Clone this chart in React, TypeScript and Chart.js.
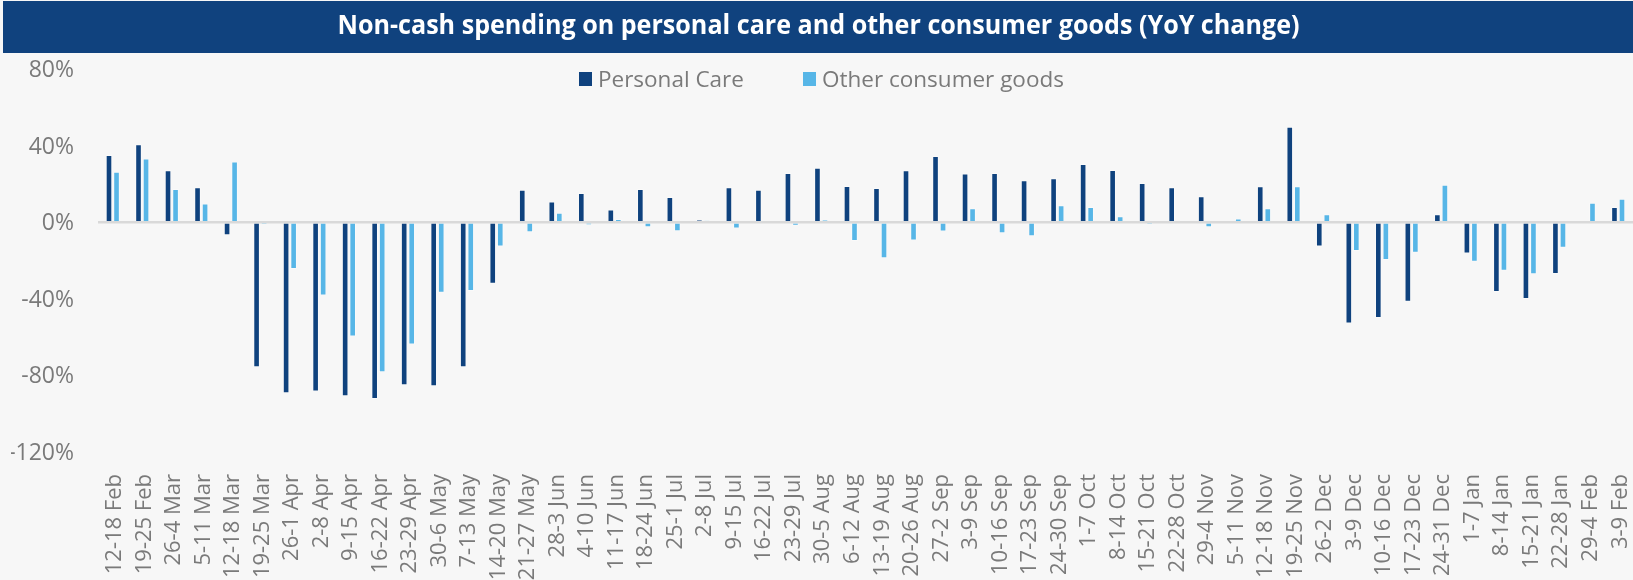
import React, { useEffect, useRef } from "react";
import { Chart, registerables } from "chart.js";

Chart.register(...registerables);

const TITLE = "Non-cash spending on personal care and other consumer goods (YoY change)";

const categories = [
  "12-18 Feb", "19-25 Feb", "26-4 Mar", "5-11 Mar", "12-18 Mar", "19-25 Mar",
  "26-1 Apr", "2-8 Apr", "9-15 Apr", "16-22 Apr", "23-29 Apr", "30-6 May",
  "7-13 May", "14-20 May", "21-27 May", "28-3 Jun", "4-10 Jun", "11-17 Jun",
  "18-24 Jun", "25-1 Jul", "2-8 Jul", "9-15 Jul", "16-22 Jul", "23-29 Jul",
  "30-5 Aug", "6-12 Aug", "13-19 Aug", "20-26 Aug", "27-2 Sep", "3-9 Sep",
  "10-16 Sep", "17-23 Sep", "24-30 Sep", "1-7 Oct", "8-14 Oct", "15-21 Oct",
  "22-28 Oct", "29-4 Nov", "5-11 Nov", "12-18 Nov", "19-25 Nov", "26-2 Dec",
  "3-9 Dec", "10-16 Dec", "17-23 Dec", "24-31 Dec", "1-7 Jan", "8-14 Jan",
  "15-21 Jan", "22-28 Jan", "29-4 Feb", "3-9 Feb",
];

const personalCare = [
  35.1, 40.7, 27.1, 18.3, -6.8, -75.7,
  -89.3, -88.4, -90.9, -92.3, -85.1, -85.7,
  -75.7, -32.2, 17.0, 10.8, 15.3, 6.6,
  17.4, 13.2, 1.2, 18.3, 17.0, 25.7,
  28.4, 18.9, 17.9, 27.1, 34.6, 25.4,
  25.7, 21.9, 23.0, 30.4, 27.3, 20.5,
  18.3, 13.6, 0.0, 18.8, 49.9, -12.7,
  -52.9, -50.0, -41.5, 4.2, -16.4, -36.4,
  -40.1, -27.0, 0.7, 8.0,
];

const otherGoods = [
  26.3, 33.2, 17.4, 9.7, 31.7, -0.3,
  -24.5, -38.3, -59.7, -78.3, -63.9, -36.9,
  -35.9, -12.7, -5.2, 4.9, -1.6, 1.7,
  -2.6, -4.7, 0.8, -3.3, 0.0, -1.9,
  1.2, -9.8, -18.8, -9.6, -4.9, 7.3,
  -5.8, -7.3, 8.9, 8.0, 3.1, -0.3,
  0.7, -2.6, 1.9, 7.3, 18.8, 4.2,
  -15.0, -19.7, -15.9, 19.5, -20.6, -25.4,
  -27.2, -13.3, 10.1, 12.2,
];

const seriesNames = ["Personal Care", "Other consumer goods"];
const seriesColors = ["#0f427e", "#57b6e7"];
const yMin = -120;
const yMax = 80;
const yStep = 40;

const FONT = "'Open Sans', 'Noto Sans', sans-serif";
const TEXT_GREY = "#7a7a7a";

const decorPlugin = {
  id: "decor",
  beforeDraw(chart: any) {
    const ctx = chart.ctx;
    ctx.save();
    ctx.fillStyle = "#f7f7f7";
    ctx.fillRect(0, 0, chart.width, chart.height);
    ctx.fillStyle = "#10427e";
    ctx.fillRect(3, 1, chart.width - 3, 52);
    ctx.font = `bold 26px ${FONT}`;
    const w = ctx.measureText(TITLE).width;
    const sx = 962 / w;
    ctx.translate(818.5, 27);
    ctx.scale(sx, 1);
    ctx.fillStyle = "#ffffff";
    ctx.textAlign = "center";
    ctx.textBaseline = "middle";
    ctx.fillText(TITLE, 0, 0);
    ctx.restore();
  },
  afterDraw(chart: any) {
    const ctx = chart.ctx;
    const xs = [579, 803];
    ctx.save();
    ctx.font = `22.5px ${FONT}`;
    ctx.textBaseline = "alphabetic";
    ctx.textAlign = "left";
    chart.data.datasets.forEach((ds: any, i: number) => {
      ctx.fillStyle = ds.backgroundColor;
      ctx.fillRect(xs[i], 72, 13, 14);
      ctx.fillStyle = TEXT_GREY;
      ctx.fillText(ds.label, xs[i] + 19, 87);
    });
    ctx.restore();
  },
};

export default function App() {
  const canvasRef = useRef<HTMLCanvasElement | null>(null);

  useEffect(() => {
    const canvas = canvasRef.current;
    if (!canvas) return;
    const chart = new Chart(canvas, {
      type: "bar",
      data: {
        labels: categories,
        datasets: [
          {
            label: seriesNames[0],
            data: personalCare,
            backgroundColor: seriesColors[0],
            borderColor: "rgba(255,255,255,0.35)",
            borderWidth: 1,
            categoryPercentage: 0.51,
            barPercentage: 0.88,
          },
          {
            label: seriesNames[1],
            data: otherGoods,
            backgroundColor: seriesColors[1],
            borderColor: "rgba(255,255,255,0.35)",
            borderWidth: 1,
            categoryPercentage: 0.51,
            barPercentage: 0.88,
          },
        ],
      },
      options: {
        responsive: false,
        animation: false,
        devicePixelRatio: 1,
        layout: { padding: { top: 69, left: 11, right: 0, bottom: 0 } },
        plugins: {
          legend: { display: false },
          title: { display: false },
          tooltip: { enabled: false },
        },
        scales: {
          x: {
            grid: { display: false, drawTicks: false },
            border: { display: false },
            afterFit: (scale: any) => {
              scale.height = 128;
              scale.paddingLeft = 0;
              scale.paddingRight = 0;
            },
            ticks: {
              autoSkip: false,
              maxRotation: 90,
              minRotation: 90,
              padding: 22,
              labelOffset: 2,
              color: TEXT_GREY,
              font: { family: FONT, size: 22 },
            },
          },
          y: {
            min: yMin,
            max: yMax,
            afterFit: (scale: any) => {
              scale.width = 87;
              scale.paddingTop = 0;
              scale.paddingBottom = 0;
            },
            grid: {
              drawTicks: false,
              color: (c: any) => (c.tick && c.tick.value === 0 ? "#d9d9d9" : "rgba(0,0,0,0)"),
              lineWidth: 2.5,
            },
            border: { display: false },
            ticks: {
              stepSize: yStep,
              padding: 24,
              labelOffset: 1.5,
              color: TEXT_GREY,
              font: { family: FONT, size: 23 },
              callback: (v: any) => `${v}%`,
            },
          },
        },
      },
      plugins: [decorPlugin],
    });
    return () => chart.destroy();
  }, []);

  return (
    <div style={{ position: "fixed", left: 0, top: 0, width: 1633, height: 580, background: "#f7f7f7" }}>
      <canvas ref={canvasRef} width={1633} height={580} style={{ display: "block" }} />
    </div>
  );
}
